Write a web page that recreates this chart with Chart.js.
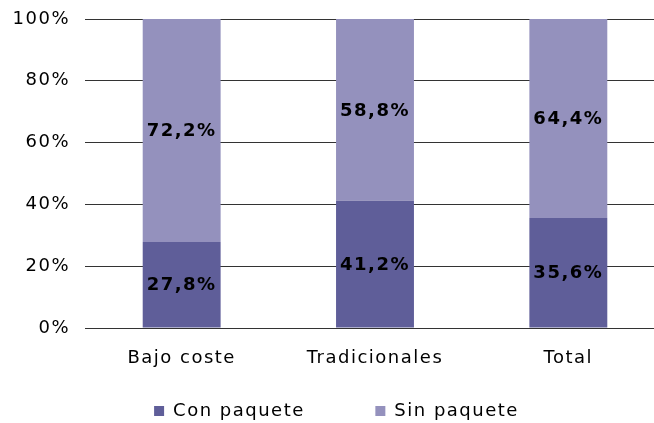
<!DOCTYPE html>
<html>
<head>
<meta charset="utf-8">
<script src="https://cdn.jsdelivr.net/npm/chart.js@4"></script>
<style>
    html, body { margin: 0; padding: 0; background: #fff; overflow: hidden; }
    #wrap { width: 665px; height: 430px; }
</style>
</head>
<body>
<div id="wrap"><canvas id="grafico"></canvas></div>
<script>
const categorias = ['Bajo coste', 'Tradicionales', 'Total'];
const conPaquete = [27.8, 41.2, 35.6];
const sinPaquete = [72.2, 58.8, 64.4];
const ticksY = [0, 20, 40, 60, 80, 100];

const colorCon = '#5f5e99';
const colorSin = '#9491bd';
const fuente = '"DejaVu Sans", Verdana, sans-serif';

// espaciado entre letras como en el original
const espaciado = {
    id: 'espaciado',
    beforeUpdate(chart) { chart.ctx.letterSpacing = '1.5px'; },
    beforeDraw(chart) { chart.ctx.letterSpacing = '1.5px'; }
};

// mover un poco la leyenda a la derecha
const leyendaX = {
    id: 'leyendaX',
    afterLayout(chart) {
        chart.legend.left += 4;
        chart.legend.right += 4;
    }
};

// etiquetas de valor dentro de cada segmento
const etiquetas = {
    id: 'etiquetas',
    afterDatasetsDraw(chart) {
        const ctx = chart.ctx;
        ctx.save();
        ctx.letterSpacing = '1.5px';
        ctx.font = 'bold 18px ' + fuente;
        ctx.fillStyle = '#000';
        ctx.textAlign = 'center';
        ctx.textBaseline = 'middle';
        chart.data.datasets.forEach((ds, i) => {
            chart.getDatasetMeta(i).data.forEach((bar, j) => {
                const p = bar.getProps(['x', 'y', 'base'], true);
                const txt = ds.data[j].toFixed(1).replace('.', ',') + '%';
                ctx.fillText(txt, p.x, (p.y + p.base) / 2 + 1);
            });
        });
        ctx.restore();
    }
};

new Chart(document.getElementById('grafico'), {
    type: 'bar',
    data: {
        labels: categorias,
        datasets: [
            { label: 'Con paquete       ', data: conPaquete, backgroundColor: colorCon },
            { label: 'Sin paquete', data: sinPaquete, backgroundColor: colorSin }
        ]
    },
    options: {
        responsive: true,
        maintainAspectRatio: false,
        animation: false,
        barPercentage: 1,
        categoryPercentage: 0.403,
        layout: { padding: { top: 19, left: 0, right: 0, bottom: 0 } },
        scales: {
            x: {
                stacked: true,
                afterFit(scale) { scale.height = 54; },
                grid: { display: false, drawTicks: false },
                border: { display: false },
                ticks: { color: '#000', font: { family: fuente, size: 18 }, padding: 20 }
            },
            y: {
                stacked: true,
                min: 0,
                max: 100,
                afterFit(scale) {
                    scale.width = 85;
                    scale.paddingTop = 0;
                    scale.paddingBottom = 0;
                },
                afterBuildTicks(scale) { scale.ticks = ticksY.map(v => ({ value: v })); },
                grid: { color: '#333', lineWidth: 1, drawTicks: false },
                border: { display: false },
                ticks: {
                    color: '#000',
                    font: { family: fuente, size: 18 },
                    padding: 15,
                    callback: v => v + '%'
                }
            }
        },
        plugins: {
            legend: {
                position: 'bottom',
                labels: {
                    color: '#000',
                    font: { family: fuente, size: 18 },
                    boxWidth: 10,
                    boxHeight: 10,
                    padding: 20
                }
            },
            tooltip: { enabled: false }
        }
    },
    plugins: [espaciado, leyendaX, etiquetas]
});
</script>
</body>
</html>
